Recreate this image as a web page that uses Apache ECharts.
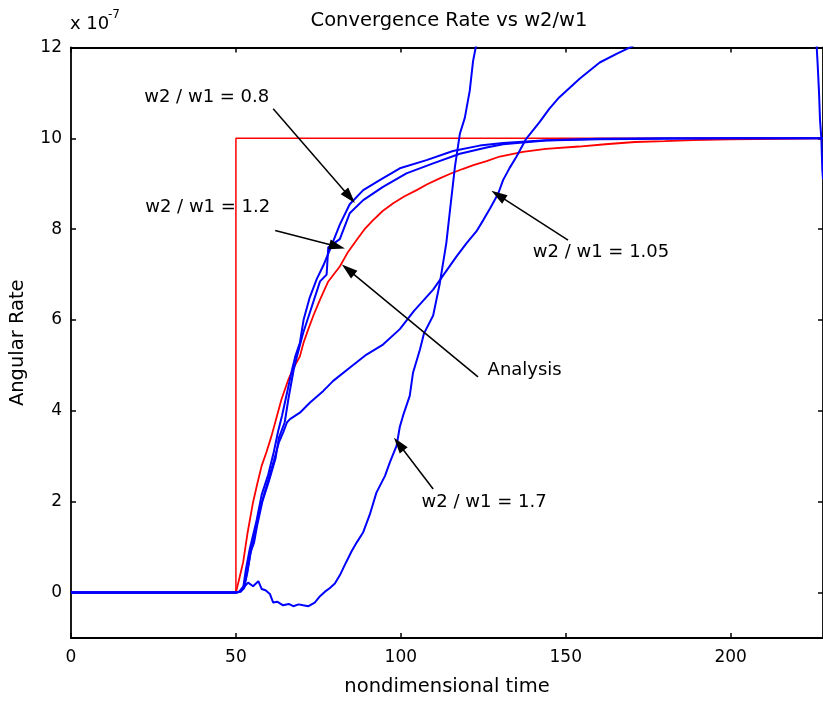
<!DOCTYPE html>
<html>
<head>
<meta charset="utf-8">
<script src="https://cdn.jsdelivr.net/npm/echarts@6/dist/echarts.min.js"></script>
<style>html,body{margin:0;padding:0;background:#fff;}#c{width:823px;height:702px;}</style>
</head>
<body>
<div id="c"></div>
<script>
// ---- data (values in units of 1e-7) ----
const xTicks = [0, 50, 100, 150, 200];
const yTicks = [0, 2, 4, 6, 8, 10, 12];

const stepT = [0, 50, 50, 228];
const stepV = [0, 0, 10, 10];

const anaT = [0,50,51,52.2,53.5,55.2,56.5,57.8,59.3,60.8,62.3,63.8,65.9,67.5,69.4,70.5,71.9,73.5,75.5,78,81.5,84,86.6,89,91.6,94.5,97.7,101,104.8,108,111.8,115,118.9,122,126,130,137,144,154,162,171,180,188.5,200,215,228];
const anaV = [0,0,0.3,0.67,1.3,1.99,2.4,2.79,3.1,3.45,3.85,4.25,4.69,4.95,5.2,5.5,5.79,6.1,6.45,6.85,7.18,7.5,7.76,8.0,8.2,8.4,8.57,8.72,8.86,8.99,9.12,9.22,9.33,9.41,9.5,9.6,9.7,9.77,9.82,9.87,9.92,9.94,9.96,9.98,9.99,10.0];

const t08 = [0,50,51,52.2,53,54.2,55,56.3,57.8,59.8,61.5,62.8,64,65.5,67,68,69.4,70.5,72.4,74.5,76.5,78.5,81.5,84.5,88.6,93.6,99.7,107.8,115.8,123.9,131,144,160,180,200,228];
const v08 = [0,0,0.02,0.1,0.5,0.96,1.2,1.6,2.15,2.6,3.1,3.55,3.9,4.4,4.9,5.2,5.5,6.0,6.5,6.9,7.2,7.55,8.1,8.55,8.86,9.08,9.34,9.52,9.72,9.84,9.9,9.96,9.99,10.0,10.0,10.0];

const t12 = [0,50,51.5,52.5,53.5,54.5,55.5,56.5,58,60,62,63,64.8,66,67.5,68.5,70.4,72.4,75.5,77.5,78,81.5,84.5,88.6,94.6,101.7,109.8,117.9,126,131,144,160,180,200,228];
const v12 = [0,0,0.02,0.1,0.45,0.9,1.1,1.5,2.0,2.45,2.95,3.4,3.75,4.3,4.9,5.2,5.72,6.16,6.85,7.0,7.6,7.78,8.35,8.64,8.93,9.23,9.45,9.66,9.8,9.87,9.95,9.98,9.99,10.0,10.0];

const t105 = [0,50,51,52.5,53.5,54.5,56,57.5,59.5,61.5,63,64.3,65.5,66.4,69.4,72.4,76.5,79.5,84.5,89.6,94.6,99.7,104,109.8,113,116.9,120,122.9,125,127,129.5,131,133,135,138,142,145,148,154.2,160.3,165.4,170,180,200,228];
const v105 = [0,0,0.02,0.15,0.5,0.9,1.4,1.9,2.4,2.9,3.3,3.52,3.75,3.82,3.96,4.18,4.44,4.66,4.95,5.24,5.46,5.8,6.2,6.67,7.0,7.4,7.7,7.95,8.2,8.45,8.78,9.08,9.35,9.59,9.99,10.35,10.65,10.9,11.31,11.67,11.86,12.02,12.5,13.2,13.8];

const t17 = [0,50,51,52.2,53.7,55.2,56.8,57.8,59,60.3,61.3,62.5,64.3,66,67.4,69,70.4,72,73.9,75.5,77,78.5,80,81.5,83.5,85,86.6,88.6,90.6,92.6,95.2,96.7,98.7,99.7,100.7,102.7,103.7,105.8,107,109.8,111.8,113.8,114.8,116.4,117.9,119.4,120.9,121.9,122.7,124,130,150,200,222,225.5,226.1,226.4,226.8,227.1,227.5,227.8,228];
const v17 = [0,0,0.02,0.1,0.22,0.14,0.25,0.08,0.05,-0.03,-0.22,-0.2,-0.28,-0.25,-0.3,-0.26,-0.28,-0.3,-0.22,-0.08,0.02,0.1,0.2,0.38,0.68,0.9,1.1,1.33,1.72,2.2,2.57,2.87,3.23,3.65,3.9,4.33,4.84,5.35,5.7,6.1,6.8,7.7,8.35,9.37,10.1,10.45,11.05,11.7,12.0,12.6,14,16,16,14.5,12.6,12.0,11.6,11.0,10.4,10.0,9.3,9.1];

// annotations: text anchor (left edge, middle) and arrow from/to, in data coords
const annText  = ['w2 / w1 = 0.8', 'w2 / w1 = 1.2', 'Analysis', 'w2 / w1 = 1.05', 'w2 / w1 = 1.7'];
const annTextX = [22.2, 22.5, 126.3, 140.0, 106.3];
const annTextY = [10.9, 8.49, 4.89, 7.48, 1.99];
const arrFromX = [61.3, 61.9, 123.4, 150.7, 109.8];
const arrFromY = [10.65, 7.97, 4.75, 7.76, 2.28];
const arrToX   = [84.5, 80.7, 84.0, 129.5, 99.4];
const arrToY   = [8.71, 7.62, 7.11, 8.75, 3.27];

// ---- build ----
const pairs = (t, v) => t.map((x, i) => [x, v[i]]);
const FONT = 'DejaVu Sans';
const chart = echarts.init(document.getElementById('c'), null, {renderer: 'canvas'});

function lineSeries(name, t, v, color, width) {
  return {
    name, type: 'line', data: pairs(t, v), showSymbol: false, symbol: 'none',
    lineStyle: {color, width}, itemStyle: {color}, clip: true, silent: true,
    animation: false, z: 2
  };
}

const baseX = {
  type: 'value', min: 0, max: 228,
  axisLine: {show: true, onZero: false, lineStyle: {color: '#000', width: 1.8}},
  axisTick: {show: true, inside: true, length: 5, customValues: xTicks, lineStyle: {color: '#000', width: 1.5}},
  splitLine: {show: false}
};
const baseY = {
  type: 'value', min: -1, max: 12,
  axisLine: {show: true, onZero: false, lineStyle: {color: '#000', width: 1.8}},
  axisTick: {show: true, inside: true, length: 5, customValues: yTicks, lineStyle: {color: '#000', width: 1.5}},
  splitLine: {show: false}
};

const option = {
  animation: false,
  backgroundColor: '#fff',
  title: {
    text: 'Convergence Rate vs w2/w1', left: 444, top: 6, textAlign: 'center',
    textStyle: {fontFamily: FONT, fontSize: 19.5, fontWeight: 'normal', color: '#000'}
  },
  grid: {left: 71, top: 47.5, width: 752.5, height: 593, containLabel: false},
  xAxis: [
    Object.assign({}, baseX, {
      position: 'bottom',
      name: 'nondimensional time', nameLocation: 'middle', nameGap: 39,
      nameTextStyle: {fontFamily: FONT, fontSize: 19.5, color: '#000'},
      axisLabel: {show: true, customValues: xTicks, margin: 11, fontFamily: FONT, fontSize: 17, color: '#000'}
    }),
    Object.assign({}, baseX, {position: 'top', axisLabel: {show: false}})
  ],
  yAxis: [
    Object.assign({}, baseY, {
      position: 'left',
      name: 'Angular Rate', nameLocation: 'middle', nameGap: 43, nameRotate: 90,
      nameTextStyle: {fontFamily: FONT, fontSize: 19.5, color: '#000'},
      axisLabel: {show: true, customValues: yTicks, margin: 9, fontFamily: FONT, fontSize: 17, color: '#000'}
    }),
    Object.assign({}, baseY, {position: 'right', axisLabel: {show: false}})
  ],
  graphic: [
    {type: 'text', left: 70, top: 15, style: {text: 'x 10', font: '18px "DejaVu Sans"', fill: '#000'}},
    {type: 'text', left: 108, top: 9, style: {text: '-7', font: '12px "DejaVu Sans"', fill: '#000'}}
  ],
  series: [
    lineSeries('Step', stepT, stepV, '#ff0000', 1.5),
    lineSeries('Analysis', anaT, anaV, '#ff0000', 1.8),
    lineSeries('w2/w1=1.05', t105, v105, '#0000ff', 2),
    lineSeries('w2/w1=1.7', t17, v17, '#0000ff', 2),
    lineSeries('w2/w1=1.2', t12, v12, '#0000ff', 2),
    lineSeries('w2/w1=0.8', t08, v08, '#0000ff', 2),
    {
      name: 'annotations', type: 'line', data: [], silent: true, animation: false, z: 5,
      markLine: {
        silent: true, animation: false, symbol: ['none', 'triangle'], symbolSize: [10, 16],
        lineStyle: {color: '#000', width: 1.5, type: 'solid'},
        label: {show: false},
        emphasis: {disabled: true},
        data: annText.map((_, i) => [{coord: [arrFromX[i], arrFromY[i]]}, {coord: [arrToX[i], arrToY[i]]}])
      },
      markPoint: {
        silent: true, animation: false, symbol: 'circle', symbolSize: 0.01,
        itemStyle: {color: 'rgba(0,0,0,0)'},
        label: {show: true, position: 'right', distance: 0, formatter: '{b}', fontFamily: FONT, fontSize: 18, color: '#000'},
        data: annText.map((s, i) => ({name: s, coord: [annTextX[i], annTextY[i]]}))
      }
    }
  ]
};
chart.setOption(option);
</script>
</body>
</html>
